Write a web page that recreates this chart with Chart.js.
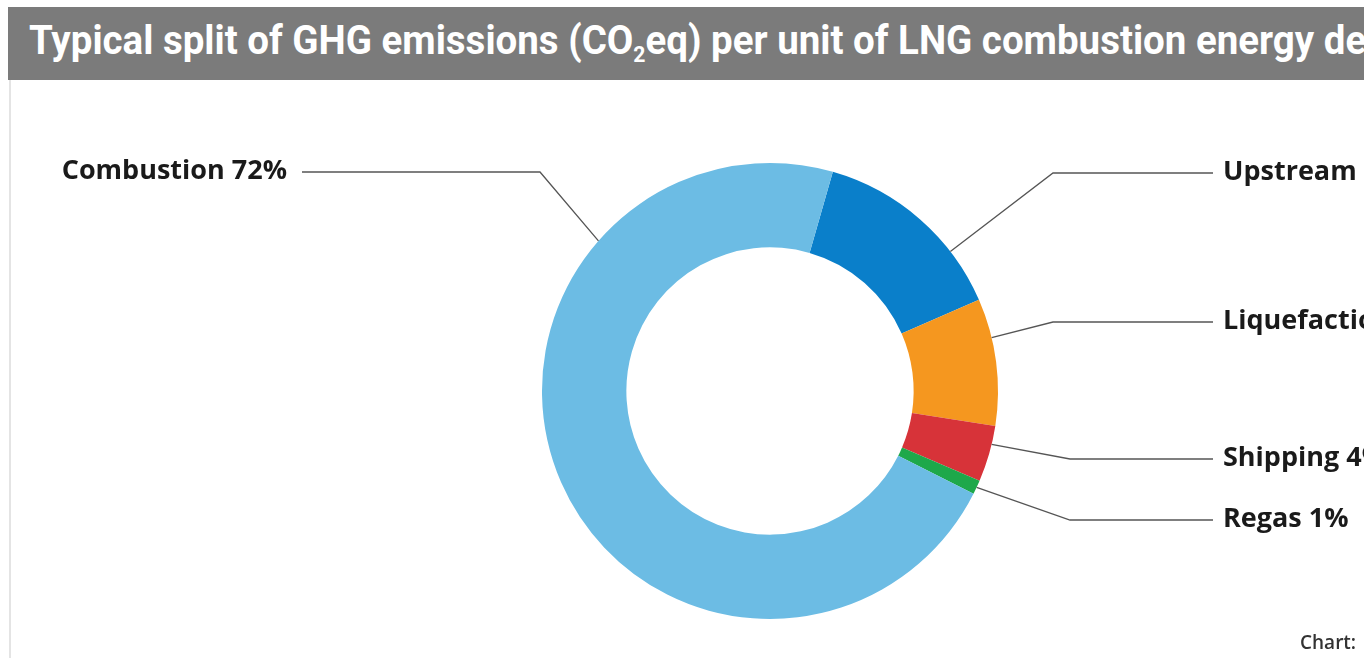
<!DOCTYPE html>
<html>
<head>
<meta charset="utf-8">
<script src="https://cdn.jsdelivr.net/npm/chart.js@4"></script>
<style>
  html, body { margin: 0; padding: 0; background: #fff; }
  body { width: 1364px; height: 658px; position: relative; overflow: hidden; }
  #wrap { position: absolute; left: 0; top: 0; width: 1364px; height: 658px; }
  #frame { position: absolute; left: 9px; top: 80px; width: 1400px; height: 600px; border-left: 2px solid #e4e4e4; }
  #title {
    position: absolute; left: 8px; top: 7px; width: 1400px; height: 73px;
    background: #7b7b7b; color: #fff; overflow: hidden; white-space: nowrap;
  }
  #title span {
    position: absolute; left: 21px; top: 10px;
    font-family: Roboto, sans-serif; font-weight: 700; font-size: 40px;
    transform-origin: 0 0; transform: scaleX(0.962);
  }
  #title sub { font-size: 22px; vertical-align: -8px; line-height: 0; }
  #credit {
    position: absolute; left: 1300px; top: 629px;
    font-family: "Open Sans", sans-serif; font-weight: 600; font-size: 19px; color: #333; white-space: nowrap;
  }
</style>
</head>
<body>
<div id="frame"></div>
<div id="wrap"><canvas id="chart" width="1364" height="658"></canvas></div>
<div id="title"><span>Typical split of GHG emissions (CO<sub>2</sub>eq) per unit of LNG combustion energy delivered</span></div>
<div id="credit">Chart:</div>
<script>
// data
const categories = ['Upstream', 'Liquefaction', 'Shipping', 'Regas', 'Combustion'];
const shares = [14, 9, 4, 1, 72];
const colors = ['#0a7fca', '#f5971f', '#d73339', '#1ea84a', '#6cbce4'];

// callout placement (where along each slice the leader starts, and where the label sits)
const calloutLayout = [
    { side: 'right', at: 0.72, y: 173 },
    { side: 'right', at: 0.31, y: 322 },
    { side: 'right', at: 0.33, y: 459 },
    { side: 'right', at: 0.5, y: 520 },
    { side: 'left', at: 0.75, y: 172 },
];

const calloutPlugin = {
    id: 'callouts',
    afterDatasetsDraw(chart) {
        const ctx = chart.ctx;
        const arcs = chart.getDatasetMeta(0).data;
        ctx.save();
        ctx.font = '700 27px "Open Sans", sans-serif';
        ctx.textBaseline = 'middle';
        arcs.forEach((arc, i) => {
            const lay = calloutLayout[i];
            const a = arc.startAngle + (arc.endAngle - arc.startAngle) * lay.at;
            const px = arc.x + Math.cos(a) * arc.outerRadius;
            const py = arc.y + Math.sin(a) * arc.outerRadius;
            const text = categories[i] + ' ' + shares[i] + '%';
            ctx.strokeStyle = '#555';
            ctx.lineWidth = 1.3;
            ctx.beginPath();
            if (lay.side === 'right') {
                const elbowX = lay.y < 400 ? arc.x + 283 : arc.x + 300;
                ctx.moveTo(px, py);
                ctx.lineTo(elbowX, lay.y);
                ctx.lineTo(arc.x + 443, lay.y);
                ctx.stroke();
                ctx.fillStyle = '#1a1a1a';
                ctx.textAlign = 'left';
                ctx.fillText(text, arc.x + 453, lay.y - 1);
            } else {
                const elbowX = arc.x - 230;
                ctx.moveTo(px, py);
                ctx.lineTo(elbowX, lay.y);
                ctx.lineTo(arc.x - 468, lay.y);
                ctx.stroke();
                ctx.fillStyle = '#1a1a1a';
                ctx.textAlign = 'right';
                ctx.fillText(text, arc.x - 483, lay.y - 1);
            }
        });
        ctx.restore();
    }
};

new Chart(document.getElementById('chart'), {
    type: 'doughnut',
    data: {
        labels: categories,
        datasets: [{
            data: shares,
            backgroundColor: colors,
            borderWidth: 0,
        }],
    },
    options: {
        responsive: false,
        maintainAspectRatio: false,
        animation: false,
        rotation: 16,
        cutout: '63%',
        layout: { padding: { left: 542, right: 366, top: 163, bottom: 39 } },
        plugins: {
            legend: { display: false },
            tooltip: { enabled: false },
        },
    },
    plugins: [calloutPlugin],
});
</script>
</body>
</html>
